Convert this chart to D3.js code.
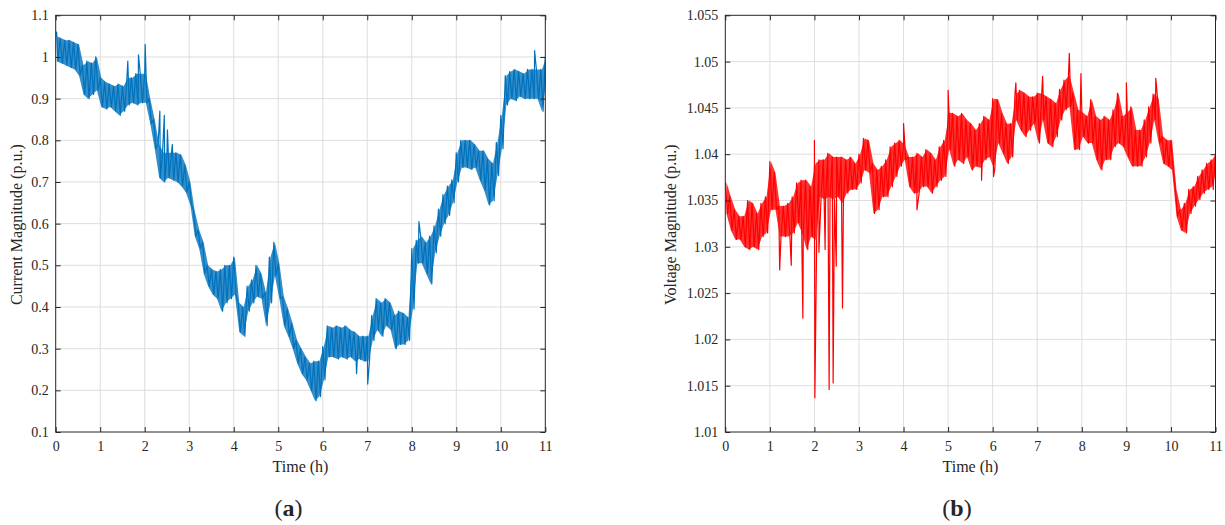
<!DOCTYPE html>
<html>
<head>
<meta charset="utf-8">
<script src="https://cdn.jsdelivr.net/npm/d3@7"></script>
<style>
body { margin: 0; background: #fff; }
svg { display: block; }
text { font-family: "Liberation Serif", "Times New Roman", serif; fill: #262626; }
</style>
</head>
<body>
<svg width="1225" height="525"></svg>
<script>
// Sample times (h), one every 0.1 h
var hours = [0,0.1,0.2,0.3,0.4,0.5,0.6,0.7,0.8,0.9,1,1.1,1.2,1.3,1.4,1.5,1.6,1.7,1.8,1.9,2,2.1,2.2,2.3,2.4,2.5,2.6,2.7,2.8,2.9,
  3,3.1,3.2,3.3,3.4,3.5,3.6,3.7,3.8,3.9,4,4.1,4.2,4.3,4.4,4.5,4.6,4.7,4.8,4.9,5,5.1,5.2,5.3,5.4,5.5,5.6,5.7,5.8,5.9,
  6,6.1,6.2,6.3,6.4,6.5,6.6,6.7,6.8,6.9,7,7.1,7.2,7.3,7.4,7.5,7.6,7.7,7.8,7.9,8,8.1,8.2,8.3,8.4,8.5,8.6,8.7,8.8,8.9,
  9,9.1,9.2,9.3,9.4,9.5,9.6,9.7,9.8,9.9,10,10.1,10.2,10.3,10.4,10.5,10.6,10.7,10.8,10.9,11];

// (a) current magnitude: upper and lower edge of the noisy trace
var currentHi = [1.05,1.045,1.04,1.04,1.035,1.03,0.98,0.99,0.985,1.0,
  0.95,0.94,0.935,0.93,0.935,0.93,0.95,0.95,0.96,0.96,
  0.96,0.90,0.85,0.79,0.77,0.77,0.77,0.77,0.765,0.74,
  0.70,0.63,0.585,0.555,0.50,0.49,0.485,0.49,0.50,0.50,
  0.52,0.41,0.40,0.45,0.465,0.50,0.48,0.435,0.52,0.555,
  0.505,0.425,0.395,0.36,0.32,0.30,0.28,0.265,0.27,0.27,
  0.305,0.355,0.35,0.355,0.35,0.355,0.345,0.34,0.33,0.33,
  0.33,0.38,0.42,0.41,0.42,0.41,0.38,0.39,0.385,0.375,
  0.54,0.56,0.57,0.555,0.57,0.595,0.635,0.67,0.69,0.705,
  0.77,0.80,0.80,0.80,0.79,0.775,0.775,0.755,0.745,0.795,
  0.86,0.955,0.965,0.97,0.965,0.96,0.97,0.97,0.97,0.97,
  1.0];
var currentLo = [0.99,0.985,0.98,0.975,0.97,0.955,0.91,0.90,0.91,0.92,
  0.88,0.875,0.88,0.87,0.86,0.87,0.885,0.89,0.885,0.89,
  0.89,0.84,0.78,0.71,0.70,0.71,0.705,0.70,0.69,0.675,
  0.645,0.57,0.54,0.48,0.45,0.43,0.42,0.39,0.41,0.42,
  0.43,0.34,0.33,0.39,0.41,0.425,0.42,0.355,0.41,0.475,
  0.42,0.355,0.33,0.30,0.265,0.24,0.225,0.20,0.175,0.185,
  0.225,0.28,0.28,0.275,0.28,0.275,0.28,0.27,0.275,0.27,
  0.27,0.32,0.345,0.33,0.355,0.345,0.30,0.31,0.31,0.32,
  0.395,0.505,0.505,0.48,0.455,0.53,0.57,0.60,0.62,0.65,
  0.70,0.735,0.735,0.73,0.735,0.705,0.68,0.645,0.655,0.715,
  0.78,0.885,0.90,0.895,0.905,0.90,0.90,0.90,0.90,0.87,
  0.945];
var currentSpikeT = [0.02, 1.62, 1.86, 2.01, 2.34, 2.44, 2.51, 2.62, 6.76, 7.01, 8.16, 10.76];
var currentSpikeV = [1.06, 0.99, 1.005, 1.03, 0.87, 0.86, 0.825, 0.79, 0.24, 0.215, 0.605, 1.015];

// (b) voltage magnitude
var voltageHi = [1.037,1.0354,1.034,1.0333,1.0333,1.035,1.0347,1.0336,1.0347,1.0354,
  1.0392,1.038,1.0344,1.0344,1.0347,1.0354,1.0369,1.0372,1.0372,1.0365,
  1.039,1.0394,1.0394,1.0401,1.0397,1.0397,1.0397,1.0394,1.0397,1.039,
  1.040,1.0417,1.0415,1.039,1.0383,1.0387,1.0394,1.0408,1.0412,1.0415,
  1.041,1.0397,1.0397,1.0401,1.0397,1.0405,1.0401,1.0394,1.0408,1.0415,
  1.0445,1.0444,1.0441,1.0444,1.0437,1.0433,1.0426,1.0433,1.0441,1.0437,
  1.0460,1.0459,1.0444,1.0433,1.0433,1.0465,1.0469,1.0466,1.0462,1.0462,
  1.0466,1.0465,1.0462,1.0459,1.0455,1.0470,1.0480,1.0485,1.0466,1.0448,
  1.0445,1.0441,1.0459,1.0441,1.0437,1.0441,1.0437,1.0448,1.0466,1.0441,
  1.0445,1.0451,1.0426,1.0426,1.0437,1.0451,1.0465,1.0460,1.0419,1.0415,
  1.0415,1.0362,1.034,1.0347,1.0362,1.0365,1.0376,1.0383,1.039,1.0394,
  1.0401];
var voltageLo = [1.0336,1.0318,1.0308,1.0308,1.030,1.0297,1.030,1.0297,1.0311,1.0315,
  1.034,1.034,1.0311,1.0311,1.0311,1.0315,1.0326,1.0315,1.0297,1.0311,
  1.0307,1.0354,1.0351,1.0354,1.0351,1.0354,1.0347,1.0358,1.0362,1.0362,
  1.0369,1.0383,1.038,1.0336,1.034,1.0354,1.0354,1.0365,1.0376,1.0387,
  1.0394,1.0365,1.0358,1.0358,1.0365,1.0365,1.0358,1.0365,1.0372,1.0376,
  1.0405,1.0387,1.0394,1.039,1.0397,1.0383,1.0387,1.0385,1.0394,1.0397,
  1.0385,1.0412,1.0401,1.039,1.0397,1.0437,1.0426,1.0419,1.0426,1.0433,
  1.0412,1.0437,1.0412,1.0408,1.0419,1.0437,1.0448,1.0451,1.0405,1.0405,
  1.0419,1.0412,1.0412,1.0394,1.0383,1.0394,1.0394,1.0408,1.0412,1.0408,
  1.0397,1.0387,1.0387,1.0387,1.0397,1.0412,1.0437,1.0412,1.039,1.0387,
  1.0383,1.0333,1.0318,1.0315,1.0336,1.0344,1.0351,1.0358,1.0362,1.0365,
  1.0383];
var voltageSpikeT = [1.22, 1.48, 1.74, 2.0, 2.01, 2.10, 2.24, 2.33, 2.42, 2.49, 2.63, 4.0, 4.3, 5.0, 5.75,
  6.02, 6.52, 7.12, 7.72, 7.98, 9.0, 9.66, 10.95];
var voltageSpikeV = [1.0275, 1.028, 1.0223, 1.0415, 1.0137, 1.0294, 1.0297, 1.0146, 1.0153, 1.0279, 1.0234, 1.0433, 1.034, 1.0469, 1.0372,
  1.0376, 1.0477, 1.0484, 1.0509, 1.0487, 1.0477, 1.0482, 1.0362];

// Axis ticks and labels
var timeTicks = [0,1,2,3,4,5,6,7,8,9,10,11];
var currentTicks = [0.1,0.2,0.3,0.4,0.5,0.6,0.7,0.8,0.9,1,1.1];
var currentTickLabels = ["0.1","0.2","0.3","0.4","0.5","0.6","0.7","0.8","0.9","1","1.1"];
var voltageTicks = [1.01,1.015,1.02,1.025,1.03,1.035,1.04,1.045,1.05,1.055];
var voltageTickLabels = ["1.01","1.015","1.02","1.025","1.03","1.035","1.04","1.045","1.05","1.055"];

var svg = d3.select("svg");
var plotTop = 15.3, plotBottom = 432;

// zigzag trace: high edge, low edge, plus single-sample spikes
function buildTrace(hi, lo, spT, spV){
  var pts = [];
  for (var i = 0; i < hours.length; i++){
    pts.push([hours[i], hi[i]]);
    pts.push([hours[i] + 0.05, lo[i]]);
  }
  for (var j = 0; j < spT.length; j++){
    pts.push([spT[j], spV[j]]);
  }
  pts.sort(function(a, b){ return a[0] - b[0]; });
  return pts;
}

function drawPanel(opt){
  var x = d3.scaleLinear().domain([0, 11]).range([opt.left, opt.right]);
  var y = d3.scaleLinear().domain(opt.yDomain).range([plotBottom, plotTop]);
  var g = svg.append("g");
  var w = opt.right - opt.left, h = plotBottom - plotTop;

  // grid
  g.append("g").selectAll("line").data(timeTicks.slice(1, -1)).join("line")
    .attr("x1", function(d){ return x(d); }).attr("x2", function(d){ return x(d); })
    .attr("y1", plotTop).attr("y2", plotBottom)
    .attr("stroke", "#dedede").attr("stroke-width", 1);
  g.append("g").selectAll("line").data(opt.yTicks.slice(1, -1)).join("line")
    .attr("x1", opt.left).attr("x2", opt.right)
    .attr("y1", function(d){ return y(d); }).attr("y2", function(d){ return y(d); })
    .attr("stroke", "#dedede").attr("stroke-width", 1);

  // data: band between the edges, then the zigzag and spikes on top
  g.append("clipPath").attr("id", opt.id + "clip").append("rect")
    .attr("x", opt.left).attr("y", plotTop).attr("width", w).attr("height", h);
  var band = d3.area()
    .x(function(d, i){ return x(hours[i] + 0.025); })
    .y0(function(d, i){ return y(opt.lo[i]); })
    .y1(function(d, i){ return y(opt.hi[i]); });
  g.append("path")
    .attr("clip-path", "url(#" + opt.id + "clip)")
    .attr("d", band(hours))
    .attr("fill", opt.color).attr("fill-opacity", 0.8).attr("stroke", "none");
  var line = d3.line().x(function(d){ return x(d[0]); }).y(function(d){ return y(d[1]); });
  g.append("path")
    .attr("clip-path", "url(#" + opt.id + "clip)")
    .attr("d", line(buildTrace(opt.hi, opt.lo, opt.spT, opt.spV)))
    .attr("fill", "none").attr("stroke", opt.color).attr("stroke-width", 1.2)
    .attr("stroke-linejoin", "round");

  // axes, ticks pointing inward on all four sides
  var fmtY = function(d, i){ return opt.yLabels[i]; };
  var bottom = g.append("g").attr("transform", "translate(0," + plotBottom + ")")
    .call(d3.axisBottom(x).tickValues(timeTicks).tickSize(-5).tickPadding(9).tickFormat(d3.format("d")));
  var top = g.append("g").attr("transform", "translate(0," + plotTop + ")")
    .call(d3.axisTop(x).tickValues(timeTicks).tickSize(-5).tickFormat(""));
  var left = g.append("g").attr("transform", "translate(" + opt.left + ",0)")
    .call(d3.axisLeft(y).tickValues(opt.yTicks).tickSize(-5).tickPadding(7).tickFormat(fmtY));
  var right = g.append("g").attr("transform", "translate(" + opt.right + ",0)")
    .call(d3.axisRight(y).tickValues(opt.yTicks).tickSize(-5).tickFormat(""));
  [bottom, top, left, right].forEach(function(a){
    a.select(".domain").remove();
    a.selectAll("line").attr("stroke", "#262626");
    a.selectAll("text").attr("font-size", 14).attr("font-family", "Liberation Serif, serif").attr("fill", "#262626");
  });
  g.append("rect").attr("x", opt.left).attr("y", plotTop).attr("width", w).attr("height", h)
    .attr("fill", "none").attr("stroke", "#262626").attr("stroke-width", 1);

  // labels
  g.append("text").attr("x", (opt.left + opt.right) / 2).attr("y", 472)
    .attr("text-anchor", "middle").attr("font-size", 16).text("Time (h)");
  g.append("text").attr("transform", "translate(" + opt.yLabelX + "," + ((plotTop + plotBottom) / 2 + 1) + ") rotate(-90)")
    .attr("text-anchor", "middle").attr("font-size", 16).text(opt.yTitle);
  var cap = g.append("text").attr("x", opt.capX).attr("y", 516)
    .attr("text-anchor", "middle").attr("font-size", 24);
  cap.append("tspan").text("(");
  cap.append("tspan").attr("font-weight", "bold").text(opt.capLetter);
  cap.append("tspan").text(")");
}

drawPanel({id: "a", left: 55.7, right: 545.3, yDomain: [0.1, 1.1], yTicks: currentTicks, yLabels: currentTickLabels,
  hi: currentHi, lo: currentLo, spT: currentSpikeT, spV: currentSpikeV, color: "#0072BD",
  yTitle: "Current Magnitude (p.u.)", yLabelX: 22, capX: 288.5, capLetter: "a"});
drawPanel({id: "b", left: 725.3, right: 1215.5, yDomain: [1.01, 1.055], yTicks: voltageTicks, yLabels: voltageTickLabels,
  hi: voltageHi, lo: voltageLo, spT: voltageSpikeT, spV: voltageSpikeV, color: "#FF0000",
  yTitle: "Voltage Magnitude (p.u.)", yLabelX: 676, capX: 957, capLetter: "b"});
</script>
</body>
</html>
